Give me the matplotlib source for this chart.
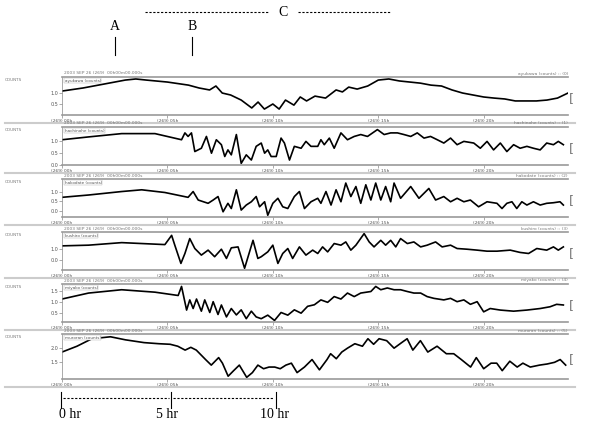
import matplotlib
matplotlib.use("Agg")
import matplotlib.pyplot as plt

W, H = 589, 426
stations = ["ayukawa", "hachinohe", "hakodate", "kushiro", "miyako", "muroran"]
hour_ticks = [0, 5, 10, 15, 20]
hour_labels = ["(269) 00h", "(269) 05h", "(269) 10h", "(269) 15h", "(269) 20h"]

t1 = [0,1,2,3,3.5,4,5,6,6.5,7,7.3,7.6,8,8.5,9,9.3,9.6,10,10.3,10.6,11,11.3,11.6,12,12.5,13,13.3,13.6,14,14.5,15,15.5,16,16.5,17,17.5,18,18.5,19,19.5,20,20.5,21,21.5,22,22.5,23,23.5,24]
v1 = [1.09,1.23,1.41,1.59,1.64,1.59,1.50,1.36,1.23,1.14,1.32,1.0,0.91,0.68,0.32,0.59,0.27,0.5,0.27,0.68,0.45,0.82,0.64,0.86,0.77,1.14,1.05,1.27,1.18,1.32,1.59,1.64,1.55,1.5,1.45,1.36,1.32,1.14,1.0,0.91,0.82,0.77,0.73,0.64,0.64,0.64,0.68,0.77,1.0]

t2 = [0,1.26,2.83,4.41,5.67,5.83,5.98,6.14,6.30,6.61,6.85,7.09,7.32,7.56,7.72,7.87,8.03,8.27,8.50,8.74,8.98,9.21,9.45,9.61,9.76,9.92,10.16,10.39,10.55,10.79,11.02,11.34,11.57,11.81,12.13,12.28,12.44,12.68,12.91,13.23,13.54,13.86,14.17,14.49,14.96,15.28,15.59,15.91,16.22,16.54,16.85,17.17,17.48,17.80,18.11,18.43,18.74,19.06,19.53,19.84,20.16,20.47,20.79,21.10,21.42,21.73,22.05,22.36,22.68,22.99,23.31,23.54,23.78]
v2 = [1.07,1.19,1.33,1.33,1.07,1.36,1.21,1.36,0.57,0.71,1.21,0.50,1.07,0.86,0.36,0.64,0.43,1.29,0.07,0.43,0.21,0.79,0.93,0.50,0.64,0.36,0.36,1.14,0.93,0.21,0.79,0.71,1.0,0.79,0.79,1.07,0.86,1.14,0.71,1.36,1.07,1.21,1.29,1.21,1.5,1.29,1.36,1.36,1.29,1.21,1.36,1.14,1.21,1.07,0.93,1.14,0.86,1.0,0.93,0.71,1.0,0.64,0.93,0.57,0.86,0.71,0.79,0.71,0.64,0.93,0.86,1.0,0.86]

t3 = [0,1.26,2.83,3.78,4.88,5.98,6.22,6.46,6.93,7.17,7.40,7.64,7.87,8.03,8.27,8.50,8.74,8.98,9.21,9.37,9.61,9.76,10.0,10.24,10.47,10.71,11.02,11.26,11.50,11.81,12.13,12.28,12.52,12.76,13.0,13.23,13.46,13.70,13.94,14.17,14.41,14.65,14.88,15.12,15.35,15.59,15.75,16.06,16.54,16.93,17.40,17.72,18.11,18.43,18.74,19.06,19.37,19.76,20.16,20.63,20.87,21.10,21.34,21.57,21.81,22.05,22.36,22.68,22.99,23.31,23.62,23.78]
v3 = [0.70,0.82,1.0,1.09,0.95,0.70,1.0,0.56,0.39,0.56,0.74,-0.05,0.39,0.12,1.09,0.04,0.30,0.47,0.74,0.21,0.47,-0.23,0.39,0.65,0.21,0.12,0.74,1.0,0.12,0.47,0.65,0.39,1.0,0.30,1.09,0.47,1.44,0.74,1.26,0.39,1.35,0.56,1.44,0.56,1.26,0.47,1.44,0.65,1.26,0.65,1.16,0.56,0.74,0.47,0.65,0.47,0.56,0.21,0.47,0.39,0.12,0.39,0.47,0.12,0.47,0.30,0.47,0.30,0.39,0.42,0.47,0.30]

t4 = [0,1.26,2.83,4.88,5.20,5.35,5.64,5.83,6.06,6.30,6.61,6.93,7.24,7.56,7.80,8.03,8.35,8.66,9.06,9.29,9.45,9.76,10.0,10.24,10.47,10.71,10.94,11.26,11.57,11.89,12.13,12.36,12.60,12.91,13.23,13.46,13.70,13.94,14.33,14.57,14.80,15.12,15.35,15.59,15.83,16.06,16.38,16.69,17.01,17.32,17.72,18.03,18.43,18.74,19.21,19.69,20.16,20.63,21.26,21.73,22.13,22.52,22.99,23.31,23.54,23.78]
v4 = [1.23,1.29,1.51,1.34,2.14,1.29,-0.29,0.57,1.86,1.0,0.43,0.86,0.29,0.94,0.14,1.06,1.14,-0.71,1.71,0.14,0.29,0.71,1.29,-0.29,0.57,1.0,0.14,1.14,0.43,0.86,0.57,1.14,0.71,1.43,1.29,1.57,0.86,1.29,2.29,1.57,1.14,1.71,1.29,1.71,1.14,1.86,1.43,1.57,1.14,1.29,1.57,1.14,1.29,1.0,0.94,0.86,0.77,0.77,0.86,0.66,0.57,1.0,0.86,1.14,0.86,1.14]

t5 = [0,1.26,2.83,4.41,5.51,5.67,5.91,6.06,6.22,6.38,6.61,6.77,7.01,7.17,7.40,7.56,7.80,8.03,8.27,8.50,8.74,8.98,9.21,9.45,9.76,10.08,10.39,10.71,11.02,11.34,11.65,11.97,12.28,12.60,12.91,13.23,13.54,13.86,14.17,14.65,14.88,15.12,15.43,15.75,16.06,16.38,16.69,17.01,17.32,17.64,18.11,18.43,18.74,19.06,19.37,19.69,20.0,20.31,20.79,21.42,22.05,22.68,23.15,23.46,23.78]
v5 = [1.15,1.42,1.57,1.46,1.31,1.72,0.65,1.11,0.72,1.15,0.60,1.11,0.54,1.03,0.45,0.88,0.34,0.72,0.43,0.66,0.26,0.60,0.34,0.26,0.42,0.18,0.54,0.42,0.66,0.51,0.82,0.89,1.11,1.0,1.26,1.15,1.42,1.26,1.42,1.49,1.72,1.57,1.65,1.57,1.57,1.49,1.42,1.42,1.26,1.18,1.11,1.18,1.03,1.11,0.91,1.03,0.57,0.72,0.65,0.60,0.65,0.72,0.80,0.91,0.88]

t6 = [0,0.71,1.42,2.30,3.01,3.89,4.60,5.13,5.49,5.84,6.11,6.37,6.81,7.08,7.43,7.61,7.88,8.14,8.41,8.76,9.03,9.29,9.56,9.82,10.09,10.35,10.62,10.88,11.15,11.50,11.86,12.21,12.57,12.74,13.01,13.27,13.54,13.89,14.25,14.51,14.78,15.04,15.40,15.75,16.11,16.37,16.64,17.0,17.35,17.79,18.23,18.58,18.94,19.38,19.65,20.0,20.35,20.62,20.88,21.24,21.59,21.86,22.21,22.65,23.01,23.36,23.63,23.89]
v6 = [1.86,2.07,2.34,2.41,2.30,2.20,2.16,2.14,2.07,1.93,2.03,1.93,1.59,1.39,1.66,1.46,0.99,1.19,1.39,0.95,1.12,1.39,1.26,1.32,1.32,1.26,1.39,1.46,1.12,1.32,1.59,1.22,1.59,1.80,1.62,1.86,2.0,2.16,2.07,2.34,2.14,2.34,2.27,2.0,2.20,2.34,1.93,2.27,1.86,2.07,1.80,1.80,1.59,1.32,1.66,1.26,1.46,1.46,1.19,1.53,1.32,1.46,1.32,1.39,1.43,1.49,1.59,1.39]

times = [t1, t2, t3, t4, t5, t6]
values = [v1, v2, v3, v4, v5, v6]
ylims = [(0, 1.73), (0, 1.61), (-0.32, 1.65), (-0.86, 2.43), (0.11, 1.83), (0.89, 2.51)]
yticks = [[0.5, 1.0], [0.0, 0.5, 1.0], [0.0, 0.5, 1.0], [0.0, 1.0], [0.5, 1.0, 1.5], [1.5, 2.0]]
panel_px = [(77, 115), (127, 165), (179, 217), (232, 270), (284, 322), (334, 379)]

fig = plt.figure(figsize=(W/100, H/100), dpi=100)
fig.patch.set_facecolor("white")
X0, X1 = 62, 568
gray = "#888888"

def ft(x, y, s, **kw):
    fig.text(x/W, 1-y/H, s, **kw)

for i, (top, bot) in enumerate(panel_px):
    # separator band (drawn first, below tick labels)
    band_y = bot + 8
    fig.add_artist(plt.Line2D([5/W, 575/W], [1-band_y/H, 1-band_y/H], color="#cccccc", lw=1.5, zorder=0))
    ax = fig.add_axes([X0/W, 1-bot/H, (X1-X0)/W, (bot-top)/H])
    ax.patch.set_alpha(0)
    ax.plot(times[i], values[i], color="black", lw=1.2)
    ax.set_xlim(0, 24)
    ax.set_ylim(*ylims[i])
    ax.set_xticks(hour_ticks)
    ax.set_xticklabels(hour_labels, fontsize=3.2, color="#555555")
    ax.set_yticks(yticks[i])
    ax.set_yticklabels([f"{v:.1f}" for v in yticks[i]], fontsize=3.5, color="#555555")
    ax.tick_params(length=2, width=0.5, colors=gray, pad=0.8)
    for lab in ax.get_xticklabels() + ax.get_yticklabels():
        lab.set_color("#555555")
    for s in ["top", "bottom"]:
        ax.spines[s].set_color("#999999")
        ax.spines[s].set_linewidth(1.2)
    ax.spines["left"].set_color(gray)
    ax.spines["left"].set_linewidth(0.5)
    ax.spines["right"].set_visible(False)
    ax.text(0.005, 0.96, f"{stations[i]} (counts)", transform=ax.transAxes,
            fontsize=3.0, color="#555555", va="top",
            bbox=dict(facecolor="white", edgecolor="#aaaaaa", lw=0.3, pad=0.3))
    ft(X0+2, top-1.5, "2003 SEP 26 (269)  00h00m00.000s", fontsize=3.2, color="#777777", va="bottom")
    ft(X1, top-1.5, f"{stations[i]} (counts) :: ({i})", fontsize=3.2, color="#777777", va="bottom", ha="right")
    ft(5, top+3, "COUNTS", fontsize=3, color="#777777", va="center")
    ft(X1+1, (top+bot)/2+3, "[", fontsize=9, color="#777777", va="center")

# annotations
serif = "Liberation Serif"
ft(115, 30, "A", fontsize=10, family=serif, ha="center")
ft(192, 30, "B", fontsize=10, family=serif, ha="center")
fig.add_artist(plt.Line2D([115/W]*2, [1-37/H, 1-55/H], color="black", lw=0.8))
fig.add_artist(plt.Line2D([192/W]*2, [1-37/H, 1-55/H], color="black", lw=0.8))
fig.add_artist(plt.Line2D([145/W, 268/W], [1-12/H]*2, color="black", lw=0.8, ls=(0, (2, 1.5))))
fig.add_artist(plt.Line2D([298/W, 390/W], [1-12/H]*2, color="black", lw=0.8, ls=(0, (2, 1.5))))
ft(283, 12, "C", fontsize=10, family=serif, ha="center", va="center")

# time scale
for x in (61, 171, 276):
    fig.add_artist(plt.Line2D([x/W]*2, [1-392/H, 1-408/H], color="black", lw=0.8))
fig.add_artist(plt.Line2D([63/W, 169/W], [1-398/H]*2, color="black", lw=0.8, ls=(0, (2, 1.5))))
fig.add_artist(plt.Line2D([173/W, 274/W], [1-398/H]*2, color="black", lw=0.8, ls=(0, (2, 1.5))))
ft(59, 415, "0 hr", fontsize=10, family=serif, va="center")
ft(156, 415, "5 hr", fontsize=10, family=serif, va="center")
ft(260, 415, "10 hr", fontsize=10, family=serif, va="center")

fig.savefig("out.png", dpi=100, facecolor="white")
